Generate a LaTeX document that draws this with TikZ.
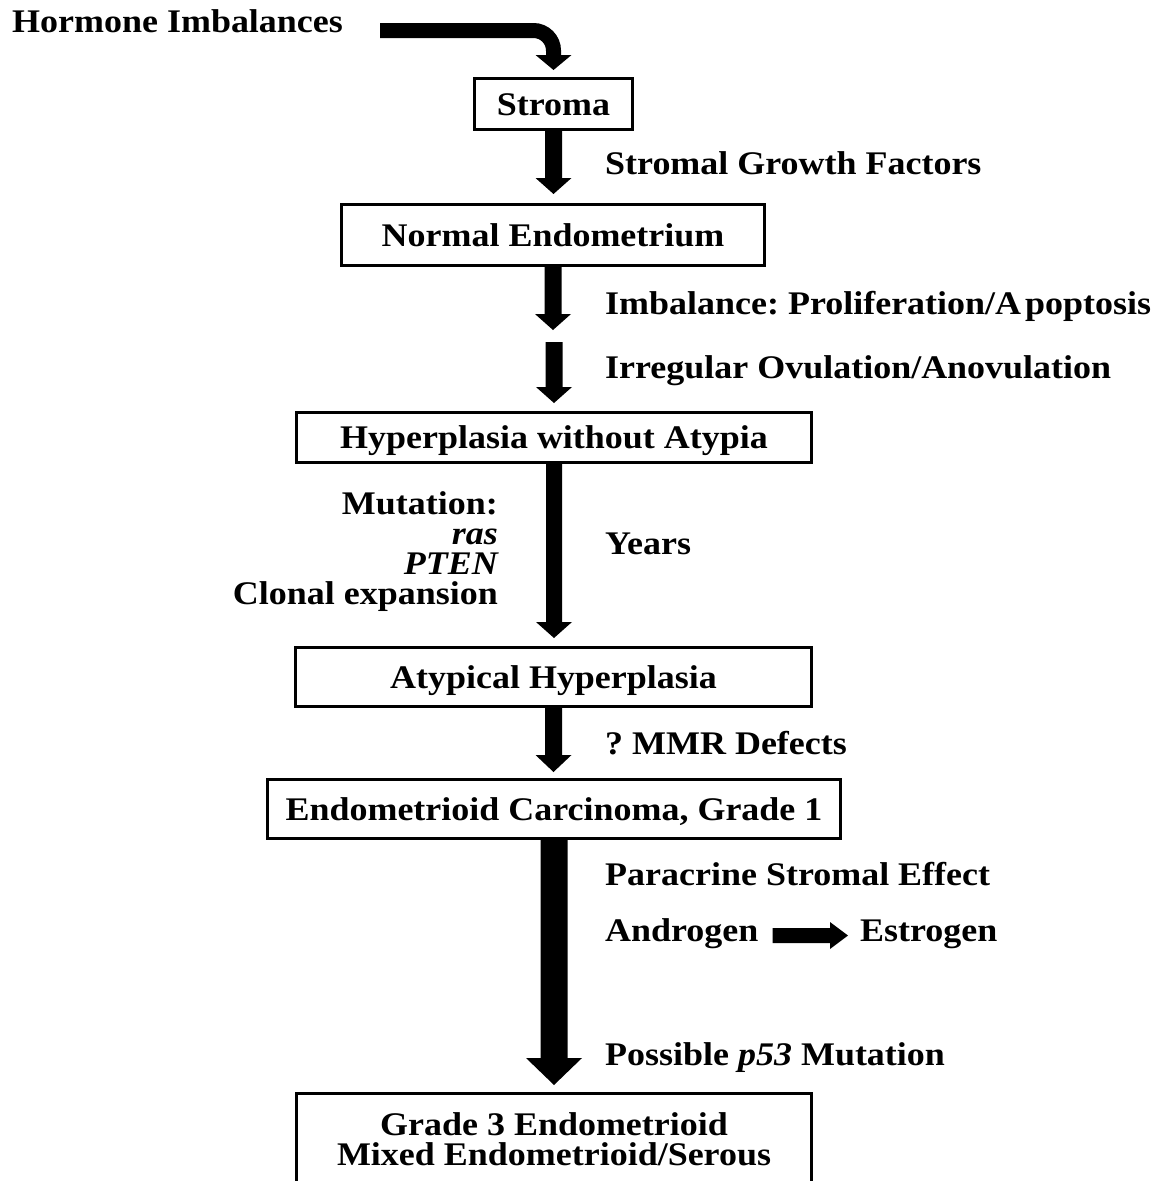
\documentclass[tikz,border=0pt]{standalone}
\usepackage{fontspec}
\setmainfont{Liberation Serif}[FakeStretch=1.09]
\usetikzlibrary{calc}
\frenchspacing
\tikzset{
  every node/.style={font=\fontsize{33}{30}\selectfont\bfseries\frenchspacing, inner sep=0pt},
  box/.style={draw, line width=3pt, text height=22pt, text depth=0pt, align=center},
  lbl/.style={anchor=base west},
  rlbl/.style={anchor=base east},
  ctr/.style={anchor=base},
}
% vertical fat arrow: #1 start, #2 target, #3 half shaft, #4 half head, #5 head length, #6 gap
\newcommand\vfat[6]{%
  \fill let \p1=(#1), \p2=(#2) in
    (\x1-#3,\y1) -- (\x1-#3,\y2+#6+#5) -- (\x1-#4,\y2+#6+#5) -- (\x1,\y2+#6)
    -- (\x1+#4,\y2+#6+#5) -- (\x1+#3,\y2+#6+#5) -- (\x1+#3,\y1) -- cycle;}
\begin{document}
\begin{tikzpicture}[x=1pt,y=-1pt]
\useasboundingbox (0,0) rectangle (1156,1181);
\fill[white] (0,0) rectangle (1156,1181);

\node[lbl] (hm) at (12,32) {Hormone Imbalances};
\node[box, minimum width=158, minimum height=51] (stroma) at (553.5,104) {Stroma};
\node[lbl] (sgf) at (605,174) {Stromal Growth Factors};
\node[box, minimum width=423, minimum height=61] (normal) at (553,235) {Normal Endometrium};
\node[lbl] (imb) at (605,314) {Imbalance: Proliferation/A\kern4pt poptosis};
\node[lbl] (irr) at (605,378) {Irregular Ovulation/Anovulation};
\node[box, minimum width=515, minimum height=50] (hyp) at (554,437.5) {Hyperplasia without Atypia};
\node[rlbl] (mut1) at (498,514) {Mutation:};
\node[rlbl] (mut2) at (498,544) {\itshape ras};
\node[rlbl] (mut3) at (498,574) {\itshape PTEN};
\node[rlbl] (mut4) at (498,604) {Clonal expansion};
\node[lbl] (yrs) at (605,554) {Years};
\node[box, minimum width=516, minimum height=59] (atyp) at (553.5,677) {Atypical Hyperplasia};
\node[lbl] (mmr) at (605,754) {? MMR Defects};
\node[box, minimum width=573, minimum height=59] (endo) at (554,809) {Endometrioid Carcinoma, Grade 1};
\node[lbl] (para) at (605,885) {Paracrine Stromal Effect};
\node[lbl] (andr) at (605,941) {Androgen};
\node[lbl] (estr) at (860,941) {Estrogen};
\node[lbl] (p53) at (605,1065) {Possible \textit{p53} Mutation};
\node[draw, line width=3pt, minimum width=515, minimum height=96] (g3) at (554,1141.5) {};
\node[ctr] (g3a) at (554,1135) {Grade 3 Endometrioid};
\node[ctr] (g3b) at (554,1165) {Mixed Endometrioid/Serous};

\coordinate (m1) at (554,330);
\coordinate (m2) at (554,342);

% hormone arrow
\draw[line width=15pt, rounded corners=20pt]
  ([xshift=37pt,yshift=1.5pt]hm.base east) -| ($(stroma.north)+(0,-22)$);
\fill let \p1=(stroma.north) in
  (\x1-18pt,\y1+22pt) -- (\x1+18pt,\y1+22pt) -- (\x1,\y1+7pt) -- cycle;

\vfat{stroma.south}{normal.north}{8.5pt}{18pt}{16pt}{9pt}
\vfat{normal.south}{m1}{8.5pt}{18pt}{16pt}{0pt}
\vfat{m2}{hyp.north}{8.5pt}{18pt}{16pt}{8pt}
\vfat{hyp.south}{atyp.north}{8pt}{18pt}{16pt}{8pt}
\vfat{atyp.south}{endo.north}{8.5pt}{18pt}{17pt}{6pt}
\vfat{endo.south}{g3.north}{13.5pt}{28pt}{27pt}{7pt}

% androgen -> estrogen
\fill let \p1=([xshift=14pt,yshift=5.5pt]andr.base east),
          \p2=([xshift=-12pt,yshift=5.5pt]estr.base west) in
  (\x1,\y1-7.5pt) -- (\x2-18pt,\y1-7.5pt) -- (\x2-18pt,\y1-13.5pt) -- (\x2,\y1)
  -- (\x2-18pt,\y1+13.5pt) -- (\x2-18pt,\y1+7.5pt) -- (\x1,\y1+7.5pt) -- cycle;
\end{tikzpicture}
\end{document}
